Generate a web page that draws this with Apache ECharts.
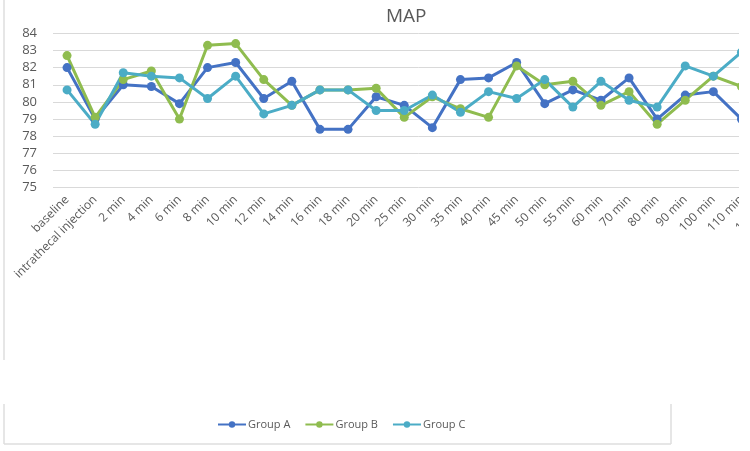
<!DOCTYPE html>
<html>
<head>
<meta charset="utf-8">
<script src="https://cdn.jsdelivr.net/npm/echarts@6/dist/echarts.min.js"></script>
<style>
  html, body { margin: 0; padding: 0; background: #fff; }
  #clip { width: 739px; height: 451px; overflow: hidden; position: relative; }
  #chart { width: 800px; height: 451px; }
</style>
</head>
<body>
<div id="clip"><div id="chart"></div></div>
<script>
const categories = ['baseline', 'intrathecal injection', '2 min', '4 min', '6 min', '8 min', '10 min', '12 min',
  '14 min', '16 min', '18 min', '20 min', '25 min', '30 min', '35 min', '40 min', '45 min', '50 min',
  '55 min', '60 min', '70 min', '80 min', '90 min', '100 min', '110 min', '120 min']

const groupA = [82.0, 79.0, 81.0, 80.9, 79.9, 82.0, 82.3, 80.2, 81.2, 78.4, 78.4, 80.3, 79.8, 78.5, 81.3,
  81.4, 82.3, 79.9, 80.7, 80.1, 81.4, 79.0, 80.4, 80.6, 79.0, null]
const groupB = [82.7, 79.1, 81.3, 81.8, 79.0, 83.3, 83.4, 81.3, 79.8, 80.7, 80.7, 80.8, 79.1, 80.3, 79.6,
  79.1, 82.1, 81.0, 81.2, 79.8, 80.6, 78.7, 80.1, 81.5, 80.9, null]
const groupC = [80.7, 78.7, 81.7, 81.5, 81.4, 80.2, 81.5, 79.3, 79.8, 80.7, 80.7, 79.5, 79.5, 80.4, 79.4,
  80.6, 80.2, 81.3, 79.7, 81.2, 80.1, 79.7, 82.1, 81.5, 82.9, null]

const seriesNames = ['Group A', 'Group B', 'Group C']
const colors = ['#4472c4', '#8fbc4f', '#4bacc6']

const FONT = "'Open Sans', sans-serif"
const GRAY = '#595959'
const FRAME = '#dedede'

const chart = echarts.init(document.getElementById('chart'))

const makeSeries = (name, data, color) => ({
  name,
  type: 'line',
  data,
  symbol: 'circle',
  symbolSize: 9,
  color,
  lineStyle: { width: 3, color },
  itemStyle: { color },
  emphasis: { disabled: true },
  animation: false,
})

chart.setOption({
  backgroundColor: '#fff',
  textStyle: { fontFamily: FONT },
  title: {
    text: 'MAP',
    left: 381,
    top: 2,
    textStyle: { color: GRAY, fontSize: 19, fontWeight: 'normal', fontFamily: FONT },
  },
  grid: { left: 53, right: 16.4, top: 33.3, bottom: 263.3, containLabel: false },
  xAxis: {
    type: 'category',
    data: categories,
    boundaryGap: true,
    axisLine: { show: false },
    axisTick: { show: false },
    axisLabel: { interval: 0, rotate: 45, margin: 10, color: GRAY, fontSize: 12, fontFamily: FONT },
  },
  yAxis: {
    type: 'value',
    min: 75,
    max: 84,
    interval: 1,
    axisLine: { show: false },
    axisTick: { show: false },
    axisLabel: { margin: 16, color: GRAY, fontSize: 13, fontFamily: FONT },
    splitLine: { lineStyle: { color: '#d9d9d9', width: 1 } },
  },
  legend: {
    data: seriesNames,
    left: 217,
    top: 419,
    padding: 0,
    itemWidth: 28,
    itemHeight: 8,
    itemGap: 14,
    textStyle: { color: GRAY, fontSize: 11, fontFamily: FONT, padding: [0, 0, 0, -3] },
  },
  graphic: [
    { type: 'line', shape: { x1: 4, y1: 0, x2: 4, y2: 360 }, style: { stroke: FRAME, lineWidth: 1.5 }, silent: true },
    { type: 'line', shape: { x1: 4, y1: 404, x2: 4, y2: 444 }, style: { stroke: FRAME, lineWidth: 1.5 }, silent: true },
    { type: 'line', shape: { x1: 4, y1: 444, x2: 671, y2: 444 }, style: { stroke: FRAME, lineWidth: 1.5 }, silent: true },
    { type: 'line', shape: { x1: 671, y1: 404, x2: 671, y2: 444 }, style: { stroke: FRAME, lineWidth: 1.5 }, silent: true },
  ],
  series: [
    makeSeries(seriesNames[0], groupA, colors[0]),
    makeSeries(seriesNames[1], groupB, colors[1]),
    makeSeries(seriesNames[2], groupC, colors[2]),
  ],
})
</script>
</body>
</html>
